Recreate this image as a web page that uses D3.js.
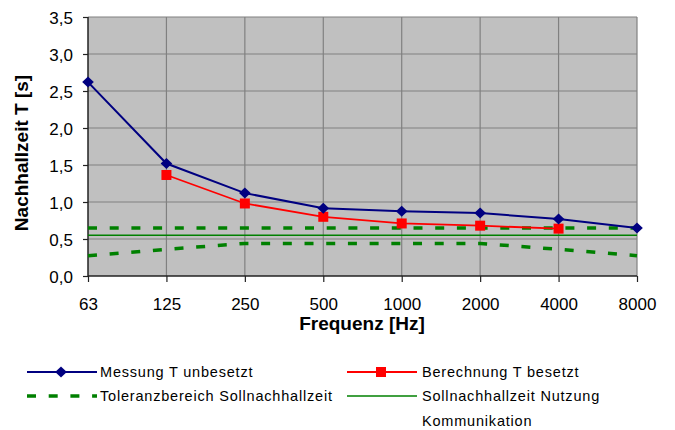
<!DOCTYPE html>
<html><head><meta charset="utf-8">
<script src="https://cdn.jsdelivr.net/npm/d3@7"></script>
<style>
body{margin:0;background:#fff;}
svg{display:block;font-family:"Liberation Sans",Arial,sans-serif;}
</style></head>
<body><svg id="c" width="675" height="430"></svg>
<script>
const categories = ["63","125","250","500","1000","2000","4000","8000"];
const messung = [2.62, 1.52, 1.12, 0.915, 0.875, 0.85, 0.77, 0.65];
const berechnung = [null, 1.365, 0.98, 0.80, 0.71, 0.68, 0.64, null];
const tolUpper = [0.65, 0.65, 0.65, 0.65, 0.65, 0.65, 0.65, 0.65];
const tolLower = [0.275, 0.36, 0.44, 0.44, 0.44, 0.44, 0.36, 0.275];
const soll = [0.55, 0.55, 0.55, 0.55, 0.55, 0.55, 0.55, 0.55];
const yTicks = [0, 0.5, 1.0, 1.5, 2.0, 2.5, 3.0, 3.5];
const legendLabels = ["Messung T unbesetzt", "Berechnung T besetzt", "Toleranzbereich Sollnachhallzeit", "Sollnachhallzeit Nutzung", "Kommunikation"];

const svg = d3.select("#c");
const x = d3.scalePoint().domain(categories).range([88, 637]);
const y = d3.scaleLinear().domain([0, 3.5]).range([276, 17]);

// plot background
svg.append("rect").attr("x", x.range()[0]).attr("y", y(3.5))
  .attr("width", x.range()[1]-x.range()[0]).attr("height", y(0)-y(3.5)).attr("fill", "#C0C0C0");

// gridlines
svg.append("g").selectAll("line").data(yTicks.slice(1)).join("line")
  .attr("x1", x.range()[0]).attr("x2", x.range()[1])
  .attr("y1", d=>y(d)).attr("y2", d=>y(d))
  .attr("stroke", "#808080").attr("stroke-width", 1.2);
svg.append("g").selectAll("line").data(categories.slice(1)).join("line")
  .attr("x1", d=>x(d)).attr("x2", d=>x(d))
  .attr("y1", y(0)).attr("y2", y(3.5))
  .attr("stroke", "#808080").attr("stroke-width", 1.2);

// axes
const yAxis = svg.append("g").attr("transform", `translate(${x.range()[0]},0)`)
  .call(d3.axisLeft(y).tickValues(yTicks).tickSize(5).tickPadding(10)
    .tickFormat(d=>d3.format(".1f")(d).replace(".", ",")));
const xAxis = svg.append("g").attr("transform", `translate(0,${y(0)})`)
  .call(d3.axisBottom(x).tickSize(6).tickPadding(16));
[yAxis, xAxis].forEach(a=>{
  a.select(".domain").attr("stroke", "#222").attr("stroke-width", 1.5);
  a.selectAll(".tick line").attr("stroke", "#222").attr("stroke-width", 1.2);
  a.selectAll("text").attr("fill", "#000").attr("font-family", '"Liberation Sans",Arial,sans-serif');
});
yAxis.selectAll("text").attr("font-size", 17).attr("dy", "0.36em");
xAxis.selectAll("text").attr("font-size", 17);
yAxis.select(".domain").attr("d", `M0,${y(0)}V${y(3.5)}`);
xAxis.select(".domain").attr("d", `M${x.range()[0]},0H${x.range()[1]}`);

// axis titles
svg.append("text").attr("transform", `translate(28,153) rotate(-90)`)
  .attr("text-anchor", "middle").attr("font-size", 19).attr("font-weight", "bold")
  .text("Nachhallzeit T [s]");
svg.append("text").attr("x", 362).attr("y", 330)
  .attr("text-anchor", "middle").attr("font-size", 19).attr("font-weight", "bold")
  .text("Frequenz [Hz]");

const lineGen = d3.line().defined(d=>d.v!=null).x(d=>x(d.c)).y(d=>y(d.v));
const zip = arr => categories.map((c,i)=>({c, v: arr[i]}));
const green = "#008000";
const dash = "9,12.7";

// tolerance and soll
svg.append("path").attr("d", lineGen(zip(tolUpper))).attr("fill","none")
  .attr("stroke", green).attr("stroke-width", 3.5).attr("stroke-dasharray", dash);
svg.append("path").attr("d", lineGen(zip(tolLower))).attr("fill","none")
  .attr("stroke", green).attr("stroke-width", 3.5).attr("stroke-dasharray", dash);
svg.append("path").attr("d", lineGen(zip(soll))).attr("fill","none")
  .attr("stroke", green).attr("stroke-width", 1.6);

// Berechnung
const red = "#FF0000", navy = "#000080";
svg.append("path").attr("d", lineGen(zip(berechnung))).attr("fill","none")
  .attr("stroke", red).attr("stroke-width", 1.8);
svg.append("g").selectAll("rect").data(zip(berechnung).filter(d=>d.v!=null)).join("rect")
  .attr("x", d=>x(d.c)-5).attr("y", d=>y(d.v)-5).attr("width", 10).attr("height", 10)
  .attr("fill", red);

// Messung
svg.append("path").attr("d", lineGen(zip(messung))).attr("fill","none")
  .attr("stroke", navy).attr("stroke-width", 2);
const diamond = (cx, cy) => `M${cx},${cy-5.5}L${cx+5.8},${cy}L${cx},${cy+5.5}L${cx-5.8},${cy}Z`;
svg.append("g").selectAll("path").data(zip(messung)).join("path")
  .attr("d", d=>diamond(x(d.c), y(d.v))).attr("fill", navy);

// legend
const lg = svg.append("g").attr("font-size", 14.5).attr("letter-spacing", "0.8px");
function legItem(x0, yy, label) {
  lg.append("text").attr("x", x0+73).attr("y", yy).attr("dy", "0.36em").text(label);
}
// row 1 col 1
lg.append("line").attr("x1", 27).attr("x2", 97).attr("y1", 372).attr("y2", 372).attr("stroke", navy).attr("stroke-width", 2);
lg.append("path").attr("d", diamond(61, 372)).attr("fill", navy);
legItem(27, 372, legendLabels[0]);
// row 1 col 2
lg.append("line").attr("x1", 347).attr("x2", 417).attr("y1", 372).attr("y2", 372).attr("stroke", red).attr("stroke-width", 2);
lg.append("rect").attr("x", 376).attr("y", 367).attr("width", 10).attr("height", 10).attr("fill", red);
legItem(349, 372, legendLabels[1]);
// row 2 col 1
lg.append("line").attr("x1", 27).attr("x2", 97).attr("y1", 396).attr("y2", 396).attr("stroke", green).attr("stroke-width", 3.5).attr("stroke-dasharray", dash);
legItem(27, 396, legendLabels[2]);
// row 2 col 2
lg.append("line").attr("x1", 347).attr("x2", 417).attr("y1", 396).attr("y2", 396).attr("stroke", green).attr("stroke-width", 1.6);
legItem(349, 396, legendLabels[3]);
legItem(349, 421, legendLabels[4]);
</script></body></html>
